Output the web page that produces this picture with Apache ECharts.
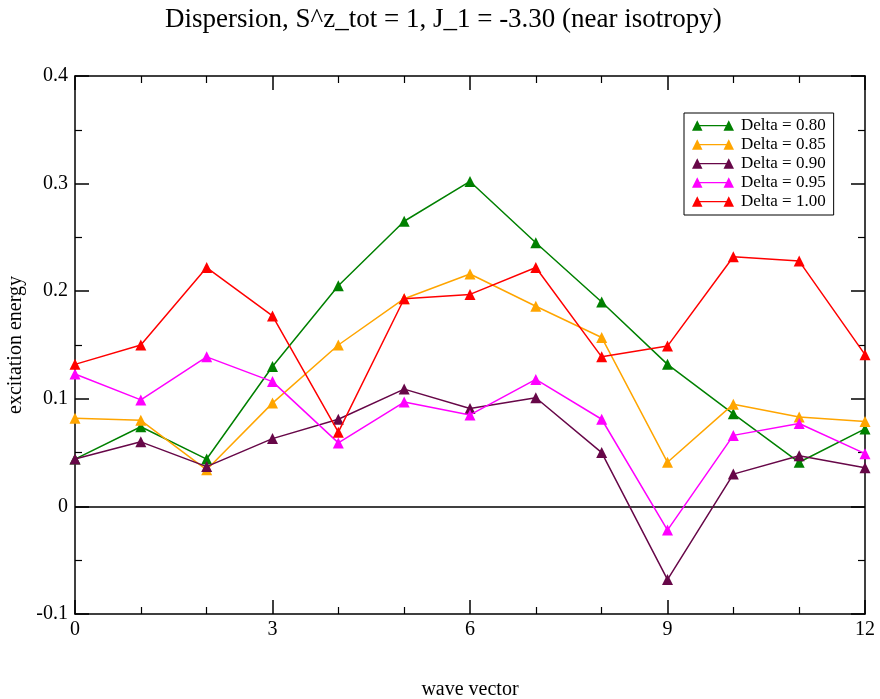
<!DOCTYPE html>
<html>
<head>
<meta charset="utf-8">
<script src="https://cdn.jsdelivr.net/npm/echarts@6/dist/echarts.min.js"></script>
<style>
  html, body { margin: 0; padding: 0; background: #fff; }
  #chart { width: 880px; height: 699px; }
</style>
</head>
<body>
<div id="chart"></div>
<script>
// Wave-vector index along the horizontal axis
const waveVector = [0, 1, 2, 3, 4, 5, 6, 7, 8, 9, 10, 11, 12];

// Excitation energies per anisotropy value
const delta080 = [0.044, 0.074, 0.044, 0.130, 0.205, 0.265, 0.302, 0.245, 0.190, 0.132, 0.086, 0.041, 0.072];
const delta085 = [0.082, 0.080, 0.034, 0.096, 0.150, 0.193, 0.216, 0.186, 0.157, 0.041, 0.095, 0.083, 0.079];
const delta090 = [0.044, 0.060, 0.037, 0.063, 0.081, 0.109, 0.091, 0.101, 0.050, -0.068, 0.030, 0.047, 0.036];
const delta095 = [0.123, 0.099, 0.139, 0.116, 0.059, 0.097, 0.085, 0.118, 0.081, -0.022, 0.066, 0.077, 0.049];
const delta100 = [0.132, 0.150, 0.222, 0.177, 0.069, 0.193, 0.197, 0.222, 0.139, 0.149, 0.232, 0.228, 0.141];

const seriesNames = ['Delta = 0.80', 'Delta = 0.85', 'Delta = 0.90', 'Delta = 0.95', 'Delta = 1.00'];
const seriesValues = [delta080, delta085, delta090, delta095, delta100];
const seriesColors = ['#008000', '#ffa500', '#670748', '#ff00ff', '#ff0000'];

const xTicks = [0, 3, 6, 9, 12];
const yTicks = [-0.1, 0, 0.1, 0.2, 0.3, 0.4];

const serif = '"Liberation Serif", "DejaVu Serif", serif';

// legend glyph: triangle — line — triangle
const legendGlyph = 'path://M0,12L6,0L12,12ZM6,5.3L42,5.3L42,6.9L6,6.9ZM36,12L42,0L48,12Z';

const series = seriesNames.map((name, i) => ({
  name: name,
  type: 'line',
  xAxisIndex: 0,
  yAxisIndex: 0,
  data: waveVector.map((x, j) => [x, seriesValues[i][j]]),
  symbol: 'triangle',
  symbolSize: 11,
  showAllSymbol: true,
  color: seriesColors[i],
  lineStyle: { width: 1.5, color: seriesColors[i] },
  itemStyle: { color: seriesColors[i] },
  animation: false,
  z: 3 + i
}));

// zero reference line
series.push({
  type: 'line',
  data: [],
  xAxisIndex: 0,
  yAxisIndex: 0,
  silent: true,
  animation: false,
  markLine: {
    silent: true,
    symbol: 'none',
    label: { show: false },
    lineStyle: { color: '#000', width: 1.5, type: 'solid' },
    data: [{ yAxis: 0 }]
  }
});

const axisLineStyle = { show: true, onZero: false, lineStyle: { color: '#000', width: 1.5 } };
const majorTick = { show: true, inside: true, length: 14, lineStyle: { color: '#000', width: 1.5 } };

const option = {
  backgroundColor: '#fff',
  animation: false,
  title: {
    text: 'Dispersion, S^z_tot = 1, J_1 = -3.30 (near isotropy)',
    left: 160,
    top: 1,
    textStyle: { fontFamily: serif, fontSize: 27, fontWeight: 'normal', color: '#000' }
  },
  legend: {
    data: seriesNames,
    orient: 'vertical',
    left: 684,
    top: 113,
    width: 149,
    padding: [4, 8, 5, 8],
    itemGap: 2,
    itemWidth: 42,
    itemHeight: 11,
    icon: legendGlyph,
    backgroundColor: '#fff',
    borderColor: '#000',
    borderWidth: 1,
    borderRadius: 0,
    textStyle: { fontFamily: serif, fontSize: 17, color: '#000', padding: [0, 0, 0, 2] }
  },
  grid: { left: 75, right: 15, top: 76, bottom: 85, containLabel: false, outerBoundsMode: 'none' },
  xAxis: [
    {
      type: 'value',
      min: 0, max: 12, interval: 3,
      name: 'wave vector',
      nameLocation: 'middle',
      nameGap: 66,
      nameTextStyle: { fontFamily: serif, fontSize: 20, color: '#000' },
      axisLine: axisLineStyle,
      axisTick: majorTick,
      minorTick: { show: true, splitNumber: 3, length: 7, lineStyle: { color: '#000', width: 1.2 } },
      axisLabel: {
        fontFamily: serif, fontSize: 20, color: '#000', margin: 6,
        formatter: v => (xTicks.indexOf(v) >= 0 ? String(v) : '')
      },
      splitLine: { show: false }
    },
    {
      type: 'value',
      position: 'top',
      min: 0, max: 12, interval: 3,
      axisLine: axisLineStyle,
      axisTick: majorTick,
      minorTick: { show: true, splitNumber: 3, length: 7, lineStyle: { color: '#000', width: 1.2 } },
      axisLabel: { show: false },
      splitLine: { show: false }
    }
  ],
  yAxis: [
    {
      type: 'value',
      min: -0.1, max: 0.4, interval: 0.1,
      name: 'excitation energy',
      nameLocation: 'middle',
      nameGap: 44,
      nameTextStyle: { fontFamily: serif, fontSize: 20, color: '#000' },
      axisLine: axisLineStyle,
      axisTick: majorTick,
      minorTick: { show: true, splitNumber: 2, length: 7, lineStyle: { color: '#000', width: 1.2 } },
      axisLabel: {
        fontFamily: serif, fontSize: 20, color: '#000', margin: 7,
        formatter: v => {
          const r = Math.round(v * 10) / 10;
          return yTicks.indexOf(r) >= 0 ? (r === 0 ? '0' : String(r)) : '';
        }
      },
      splitLine: { show: false }
    },
    {
      type: 'value',
      position: 'right',
      min: -0.1, max: 0.4, interval: 0.1,
      axisLine: axisLineStyle,
      axisTick: majorTick,
      minorTick: { show: true, splitNumber: 2, length: 7, lineStyle: { color: '#000', width: 1.2 } },
      axisLabel: { show: false },
      splitLine: { show: false }
    }
  ],
  series: series
};

const chart = echarts.init(document.getElementById('chart'), null, { renderer: 'canvas' });
chart.setOption(option);
</script>
</body>
</html>
